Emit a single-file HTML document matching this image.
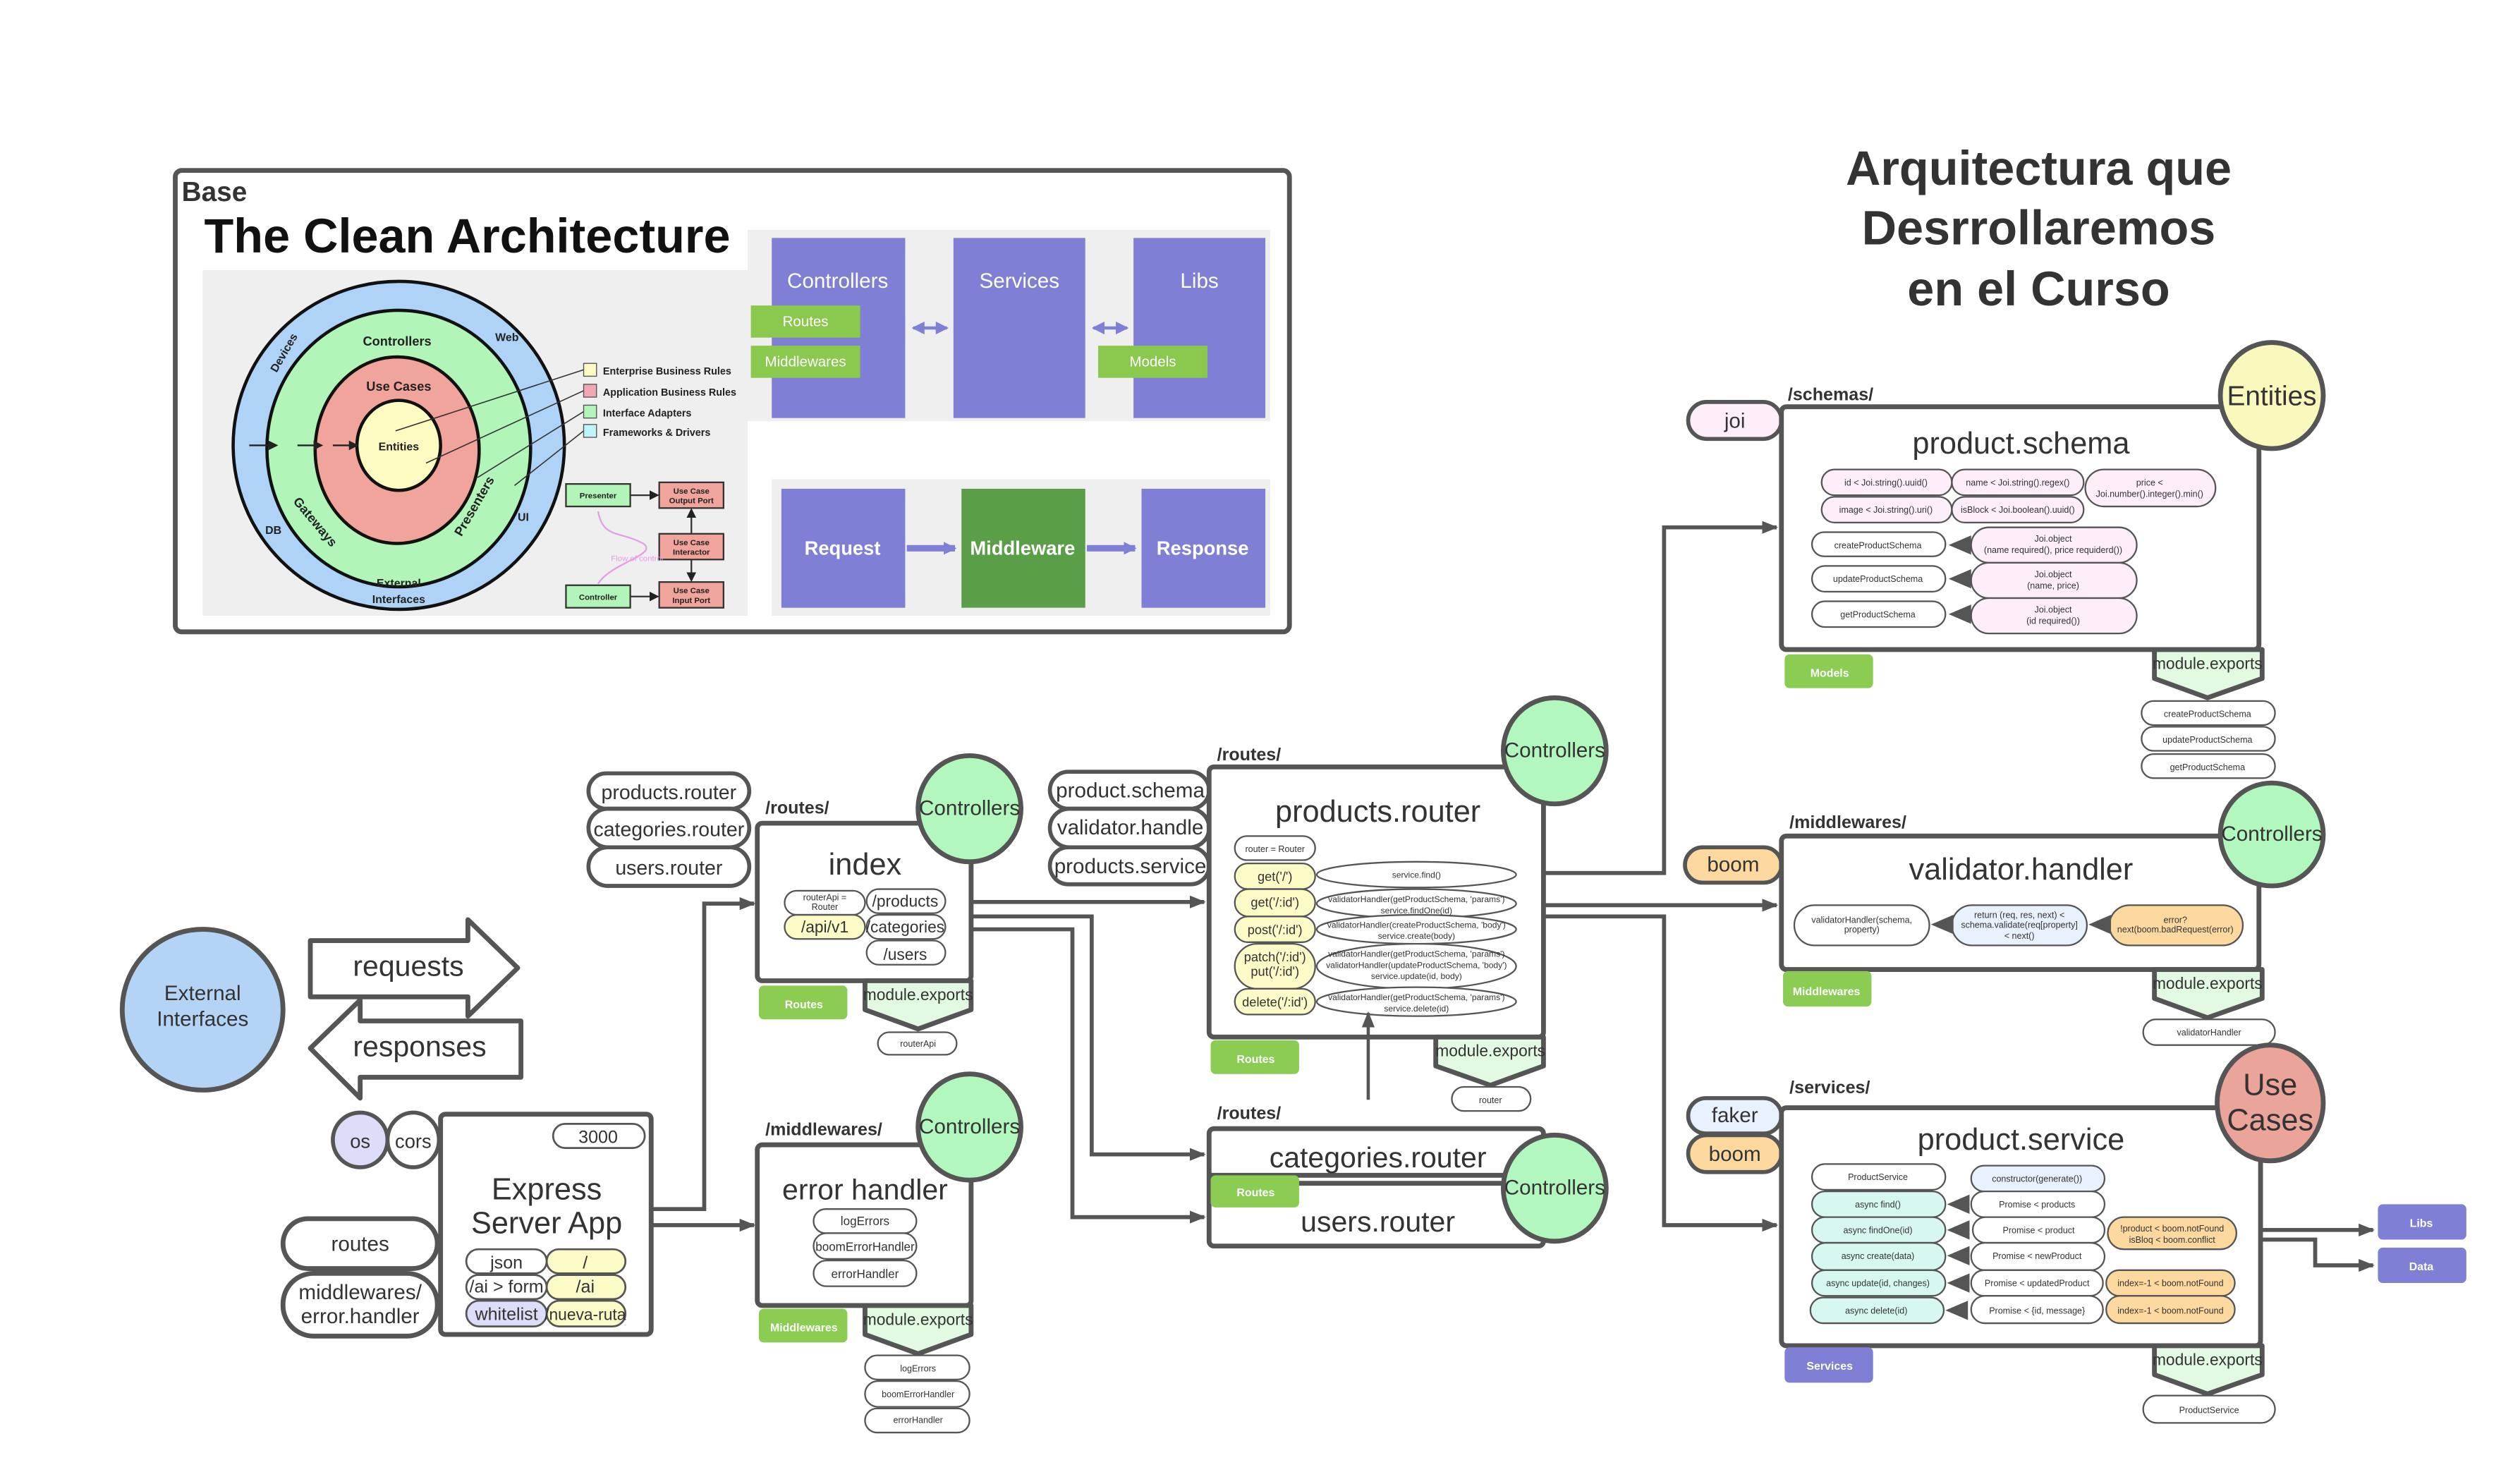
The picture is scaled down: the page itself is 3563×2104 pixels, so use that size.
<!DOCTYPE html>
<html><head><meta charset="utf-8"><style>
html,body{margin:0;padding:0;background:#fff}
svg{display:block}
text{font-family:"Liberation Sans",Arial,sans-serif;fill:#333}
</style></head><body>
<svg width="3563" height="2104" viewBox="0 0 1563 923" xmlns="http://www.w3.org/2000/svg">
<defs>
<marker id="ar" markerWidth="10" markerHeight="10" refX="9" refY="5" orient="auto" markerUnits="userSpaceOnUse"><path d="M0,1 L10,5 L0,9 Z" fill="#555"/></marker>
<marker id="ab" markerWidth="8" markerHeight="8" refX="7" refY="4" orient="auto" markerUnits="userSpaceOnUse"><path d="M0,0 L8,4 L0,8 Z" fill="#7f7fd5"/></marker>
<marker id="ab2" markerWidth="8" markerHeight="8" refX="1" refY="4" orient="auto" markerUnits="userSpaceOnUse"><path d="M8,0 L0,4 L8,8 Z" fill="#7f7fd5"/></marker>
<marker id="ak" markerWidth="6" markerHeight="6" refX="5" refY="3" orient="auto" markerUnits="userSpaceOnUse"><path d="M0,0 L6,3 L0,6 Z" fill="#222"/></marker>
</defs>
<rect width="1563" height="923" fill="#fff"/>

<!-- Title -->
<g font-weight="bold" font-size="30" text-anchor="middle">
<text x="1268" y="115">Arquitectura que</text>
<text x="1268" y="152">Desrrollaremos</text>
<text x="1268" y="190">en el Curso</text>
</g>

<!-- Base box -->
<rect x="109" y="106" width="693" height="287" rx="4" fill="#fff" stroke="#555" stroke-width="3"/>
<text x="113" y="125" font-size="17" font-weight="bold">Base</text>
<text x="127" y="157" font-size="30" font-weight="bold" style="fill:#111">The Clean Architecture</text>
<rect x="126" y="168" width="339" height="215" fill="#efefef"/>
<ellipse cx="248" cy="277" rx="103" ry="102" fill="#aed3f6" stroke="#111" stroke-width="2"/>
<ellipse cx="248" cy="279" rx="82" ry="86" fill="#b2f5b8" stroke="#111" stroke-width="2"/>
<ellipse cx="247" cy="280" rx="51" ry="58" fill="#f0a49b" stroke="#111" stroke-width="2"/>
<ellipse cx="248" cy="277" rx="26" ry="28" fill="#fbfbc2" stroke="#111" stroke-width="2"/>
<g font-size="8" font-weight="bold">
<text x="247" y="215" text-anchor="middle" style="fill:#222">Controllers</text>
<text x="248" y="243" text-anchor="middle" style="fill:#222">Use Cases</text>
<text x="248" y="280" text-anchor="middle" font-size="7" style="fill:#222">Entities</text>
<text x="308" y="212" font-size="7" style="fill:#222">Web</text>
<text x="165" y="332" font-size="7" style="fill:#222">DB</text>
<text x="322" y="324" font-size="7" style="fill:#222">UI</text>
<text x="248" y="365" text-anchor="middle" font-size="7" style="fill:#222">External</text>
<text x="248" y="375" text-anchor="middle" font-size="7" style="fill:#222">Interfaces</text>
<text transform="translate(172,232) rotate(-60)" font-size="7" style="fill:#222">Devices</text>
<text transform="translate(182,312) rotate(50)" font-size="8" style="fill:#222">Gateways</text>
<text transform="translate(287,334) rotate(-60)" font-size="8" style="fill:#222">Presenters</text>
</g>
<g stroke="#222" stroke-width="1"><line x1="155" y1="277" x2="172" y2="277" marker-end="url(#ak)"/><line x1="185" y1="277" x2="200" y2="277" marker-end="url(#ak)"/><line x1="207" y1="277" x2="222" y2="277" marker-end="url(#ak)"/></g>
<g stroke="#333" stroke-width="0.7"><line x1="246" y1="268" x2="363" y2="230"/><line x1="265" y1="288" x2="363" y2="243"/><line x1="297" y1="297" x2="363" y2="256"/><line x1="320" y1="302" x2="363" y2="268"/></g>
<rect x="363" y="226" width="8" height="8" fill="#fbfbc2" stroke="#555" stroke-width="0.6"/>
<rect x="363" y="239" width="8" height="8" fill="#f2a8b4" stroke="#555" stroke-width="0.6"/>
<rect x="363" y="252" width="8" height="8" fill="#b2f5b8" stroke="#555" stroke-width="0.6"/>
<rect x="363" y="264" width="8" height="8" fill="#bff5f8" stroke="#555" stroke-width="0.6"/>
<g font-size="6.3" font-weight="bold"><text x="375" y="233" style="fill:#222">Enterprise Business Rules</text><text x="375" y="246" style="fill:#222">Application Business Rules</text><text x="375" y="259" style="fill:#222">Interface Adapters</text><text x="375" y="271" style="fill:#222">Frameworks &amp; Drivers</text></g>
<g stroke="#333" stroke-width="1">
<rect x="352" y="301" width="40" height="14" fill="#b2f5b8"/><rect x="410" y="300" width="40" height="16" fill="#f0a49b"/>
<rect x="410" y="332" width="40" height="16" fill="#f0a49b"/><rect x="352" y="364" width="40" height="14" fill="#b2f5b8"/>
<rect x="410" y="362" width="40" height="16" fill="#f0a49b"/>
<line x1="392" y1="308" x2="409" y2="308" marker-end="url(#ak)"/><line x1="430" y1="332" x2="430" y2="317" marker-end="url(#ak)"/><line x1="430" y1="348" x2="430" y2="361" marker-end="url(#ak)"/><line x1="392" y1="371" x2="409" y2="371" marker-end="url(#ak)"/>
</g>
<path d="M372,363 C380,350 410,345 400,338 C385,330 375,335 372,318" stroke="#e59ee6" fill="none" stroke-width="1"/>
<g font-size="5" font-weight="bold" text-anchor="middle">
<text x="372" y="310" style="fill:#222">Presenter</text><text x="430" y="307" style="fill:#222">Use Case</text><text x="430" y="313" style="fill:#222">Output Port</text>
<text x="430" y="339" style="fill:#222">Use Case</text><text x="430" y="345" style="fill:#222">Interactor</text>
<text x="372" y="373" style="fill:#222">Controller</text><text x="430" y="369" style="fill:#222">Use Case</text><text x="430" y="375" style="fill:#222">Input Port</text>
</g>
<text x="380" y="349" font-size="5" style="fill:#e59ee6">Flow of control</text>

<rect x="465" y="143" width="325" height="119" fill="#efefef"/>
<rect x="480" y="148" width="83" height="112" fill="#7f7fd5"/><rect x="593" y="148" width="82" height="112" fill="#7f7fd5"/><rect x="705" y="148" width="82" height="112" fill="#7f7fd5"/>
<g font-size="13" text-anchor="middle"><text x="521" y="179" style="fill:#fff">Controllers</text><text x="634" y="179" style="fill:#fff">Services</text><text x="746" y="179" style="fill:#fff">Libs</text></g>
<rect x="467" y="190" width="68" height="20" fill="#8bc94e"/><rect x="467" y="215" width="68" height="20" fill="#8bc94e"/><rect x="683" y="215" width="68" height="20" fill="#8bc94e"/>
<g font-size="9" text-anchor="middle"><text x="501" y="203" style="fill:#fff">Routes</text><text x="501" y="228" style="fill:#fff">Middlewares</text><text x="717" y="228" style="fill:#fff">Models</text></g>
<g stroke="#7f7fd5" stroke-width="2"><line x1="568" y1="204" x2="589" y2="204" marker-end="url(#ab)" marker-start="url(#ab2)"/><line x1="680" y1="204" x2="701" y2="204" marker-end="url(#ab)" marker-start="url(#ab2)"/></g>
<rect x="480" y="298" width="310" height="85" fill="#efefef"/>
<rect x="486" y="304" width="77" height="74" fill="#7f7fd5"/><rect x="598" y="304" width="77" height="74" fill="#5a9e48"/><rect x="710" y="304" width="77" height="74" fill="#7f7fd5"/>
<g font-size="12" font-weight="bold" text-anchor="middle"><text x="524" y="345" style="fill:#fff">Request</text><text x="636" y="345" style="fill:#fff">Middleware</text><text x="748" y="345" style="fill:#fff">Response</text></g>
<g stroke="#7f7fd5" stroke-width="4"><line x1="564" y1="341" x2="594" y2="341" marker-end="url(#ab)"/><line x1="676" y1="341" x2="706" y2="341" marker-end="url(#ab)"/></g>

<!-- External interfaces -->
<ellipse cx="126" cy="628" rx="50" ry="50" fill="#b3d4f5" stroke="#555" stroke-width="3"/>
<text x="126" y="622" font-size="13" text-anchor="middle">External</text>
<text x="126" y="638" font-size="13" text-anchor="middle">Interfaces</text>
<path d="M193,585 L291,585 L291,572 L322,602 L291,632 L291,620 L193,620 Z" fill="#fff" stroke="#555" stroke-width="3" stroke-linejoin="round"/>
<text x="254" y="607" font-size="18" text-anchor="middle">requests</text>
<path d="M324,635 L224,635 L224,622 L193,652 L224,683 L224,670 L324,670 Z" fill="#fff" stroke="#555" stroke-width="3" stroke-linejoin="round"/>
<text x="261" y="657" font-size="18" text-anchor="middle">responses</text>

<!-- connectors -->
<g stroke="#555" stroke-width="2.5" fill="none">
<path d="M405,752 L438,752 L438,562 L469,562" marker-end="url(#ar)"/>
<path d="M405,762 L469,762" marker-end="url(#ar)"/>
<path d="M604,561 L749,561" marker-end="url(#ar)"/>
<path d="M604,570 L679,570 L679,718 L749,718" marker-end="url(#ar)"/>
<path d="M604,578 L667,578 L667,757 L749,757" marker-end="url(#ar)"/>
<path d="M960,543 L1035,543 L1035,328 L1105,328" marker-end="url(#ar)"/>
<path d="M960,563 L1105,563" marker-end="url(#ar)"/>
<path d="M960,570 L1035,570 L1035,762 L1105,762" marker-end="url(#ar)"/>
<path d="M1407,765 L1476,765" marker-end="url(#ar)"/>
<path d="M1407,771 L1440,771 L1440,787 L1476,787" marker-end="url(#ar)"/>
</g>

<!-- Express -->
<ellipse cx="224" cy="709" rx="17" ry="17" fill="#ddddf9" stroke="#555" stroke-width="2.5"/>
<ellipse cx="257" cy="709" rx="16" ry="17" fill="#fff" stroke="#555" stroke-width="2.5"/>
<text x="224" y="714" font-size="12" text-anchor="middle">os</text><text x="257" y="714" font-size="12" text-anchor="middle">cors</text>
<rect x="274" y="693" width="131" height="137" rx="3" fill="#fff" stroke="#555" stroke-width="3"/>
<rect x="344" y="699" width="57" height="15" rx="7.5" fill="#fff" stroke="#555" stroke-width="1.2"/>
<text x="372" y="711" font-size="11" text-anchor="middle">3000</text>
<text x="340" y="746" font-size="19" text-anchor="middle">Express</text>
<text x="340" y="767" font-size="19" text-anchor="middle">Server App</text>
<g stroke="#555" stroke-width="1.2">
<rect x="290" y="777" width="50" height="15" rx="7.5" fill="#fff"/><rect x="340" y="777" width="49" height="15" rx="7.5" fill="#fbfbc8"/>
<rect x="290" y="793" width="50" height="15" rx="7.5" fill="#fff"/><rect x="340" y="793" width="49" height="15" rx="7.5" fill="#fbfbc8"/>
<rect x="290" y="809" width="50" height="16" rx="8" fill="#ddddf9"/><rect x="340" y="809" width="49" height="16" rx="8" fill="#fbfbc8"/>
</g>
<g font-size="11" text-anchor="middle"><text x="315" y="789">json</text><text x="364" y="789">/</text><text x="315" y="804">/ai &gt; form</text><text x="364" y="804">/ai</text><text x="315" y="821">whitelist</text><text x="364" y="821" font-size="10">/nueva-ruta</text></g>
<rect x="176" y="758" width="96" height="31" rx="15.5" fill="#fff" stroke="#555" stroke-width="3"/>
<text x="224" y="778" font-size="13" text-anchor="middle">routes</text>
<rect x="176" y="792" width="96" height="39" rx="19" fill="#fff" stroke="#555" stroke-width="3"/>
<text x="224" y="808" font-size="13" text-anchor="middle">middlewares/</text><text x="224" y="823" font-size="13" text-anchor="middle">error.handler</text>

<!-- index -->
<g stroke="#555" stroke-width="2.5" fill="#fff">
<rect x="366" y="481" width="100" height="22" rx="11"/><rect x="366" y="503" width="100" height="24" rx="12"/><rect x="366" y="527" width="100" height="24" rx="12"/>
</g>
<g font-size="12.5" text-anchor="middle"><text x="416" y="497">products.router</text><text x="416" y="520">categories.router</text><text x="416" y="544">users.router</text></g>
<text x="476" y="506" font-size="11" font-weight="bold">/routes/</text>
<rect x="471" y="512" width="133" height="98" rx="3" fill="#fff" stroke="#555" stroke-width="3"/>
<ellipse cx="603" cy="503" rx="32" ry="33" fill="#b2f7bd" stroke="#555" stroke-width="3"/>
<text x="603" y="507" font-size="13" text-anchor="middle">Controllers</text>
<text x="538" y="544" font-size="19" text-anchor="middle">index</text>
<g stroke="#555" stroke-width="1">
<rect x="488" y="554" width="50" height="15" rx="7.5" fill="#fff"/><rect x="488" y="569" width="50" height="15" rx="7.5" fill="#fbfbc8"/>
<rect x="539" y="553" width="49" height="15" rx="7.5" fill="#fff"/><rect x="539" y="569" width="49" height="15" rx="7.5" fill="#fff"/><rect x="539" y="585" width="49" height="15" rx="7.5" fill="#fff"/>
</g>
<g text-anchor="middle" font-size="10"><text x="513" y="560" font-size="5.5">routerApi =</text><text x="513" y="566" font-size="5.5">Router</text><text x="513" y="580">/api/v1</text><text x="563" y="564">/products</text><text x="563" y="580">/categories</text><text x="563" y="597">/users</text></g>
<rect x="472" y="613" width="55" height="21" rx="3" fill="#8bcd53"/>
<text x="500" y="627" font-size="7" font-weight="bold" text-anchor="middle" style="fill:#fff">Routes</text>
<path d="M538,610 L604,610 L604,628 L571,640 L538,628 Z" fill="#e2f9e2" stroke="#555" stroke-width="3" stroke-linejoin="round"/>
<text x="571" y="622" font-size="10" text-anchor="middle">module.exports</text>
<rect x="546" y="642" width="49" height="14" rx="7" fill="#fff" stroke="#555" stroke-width="1"/>
<text x="571" y="651" font-size="5.5" text-anchor="middle">routerApi</text>

<!-- error handler -->
<text x="476" y="706" font-size="11" font-weight="bold">/middlewares/</text>
<rect x="471" y="712" width="133" height="100" rx="3" fill="#fff" stroke="#555" stroke-width="3"/>
<ellipse cx="603" cy="701" rx="32" ry="33" fill="#b2f7bd" stroke="#555" stroke-width="3"/>
<text x="603" y="705" font-size="13" text-anchor="middle">Controllers</text>
<text x="538" y="746" font-size="18" text-anchor="middle">error handler</text>
<g stroke="#555" stroke-width="1" fill="#fff"><rect x="506" y="752" width="64" height="15" rx="7.5"/><rect x="506" y="767" width="64" height="16" rx="8"/><rect x="506" y="784" width="64" height="16" rx="8"/></g>
<g font-size="7.5" text-anchor="middle"><text x="538" y="762">logErrors</text><text x="538" y="778">boomErrorHandler</text><text x="538" y="795">errorHandler</text></g>
<rect x="472" y="814" width="55" height="21" rx="3" fill="#8bcd53"/>
<text x="500" y="828" font-size="7" font-weight="bold" text-anchor="middle" style="fill:#fff">Middlewares</text>
<path d="M538,812 L604,812 L604,830 L571,842 L538,830 Z" fill="#e2f9e2" stroke="#555" stroke-width="3" stroke-linejoin="round"/>
<text x="571" y="824" font-size="10" text-anchor="middle">module.exports</text>
<g stroke="#555" stroke-width="1" fill="#fff"><rect x="538" y="843" width="65" height="15" rx="7.5"/><rect x="538" y="859" width="65" height="16" rx="8"/><rect x="538" y="876" width="65" height="15" rx="7.5"/></g>
<g font-size="5.5" text-anchor="middle"><text x="571" y="853">logErrors</text><text x="571" y="869">boomErrorHandler</text><text x="571" y="885">errorHandler</text></g>

<!-- products.router -->
<g stroke="#555" stroke-width="2.5" fill="#fff">
<rect x="653" y="480" width="99" height="23" rx="11.5"/><rect x="653" y="503" width="99" height="24" rx="12"/><rect x="653" y="527" width="99" height="23" rx="11.5"/>
</g>
<g font-size="13" text-anchor="middle"><text x="703" y="496">product.schema</text><text x="703" y="519">validator.handle</text><text x="703" y="543">products.service</text></g>
<text x="757" y="473" font-size="11" font-weight="bold">/routes/</text>
<rect x="752" y="477" width="208" height="168" rx="3" fill="#fff" stroke="#555" stroke-width="3"/>
<ellipse cx="967" cy="467" rx="32" ry="33" fill="#b2f7bd" stroke="#555" stroke-width="3"/>
<text x="967" y="471" font-size="13" text-anchor="middle">Controllers</text>
<text x="857" y="511" font-size="19" text-anchor="middle">products.router</text>
<g stroke="#555" stroke-width="1">
<rect x="768" y="520" width="50" height="15" rx="7.5" fill="#fff"/>
<rect x="768" y="537" width="50" height="16" rx="8" fill="#fbfbc8"/>
<rect x="768" y="553" width="50" height="17" rx="8.5" fill="#fbfbc8"/>
<rect x="768" y="570" width="50" height="16" rx="8" fill="#fbfbc8"/>
<rect x="768" y="587" width="50" height="28" rx="14" fill="#fbfbc8"/>
<rect x="768" y="615" width="50" height="16" rx="8" fill="#fbfbc8"/>
<ellipse cx="881" cy="544" rx="62" ry="8" fill="#fff"/>
<ellipse cx="881" cy="562" rx="62" ry="9" fill="#fff"/>
<ellipse cx="881" cy="578" rx="62" ry="9" fill="#fff"/>
<ellipse cx="881" cy="601" rx="62" ry="14" fill="#fff"/>
<ellipse cx="881" cy="623" rx="62" ry="9" fill="#fff"/>
</g>
<g font-size="8" text-anchor="middle"><text x="793" y="530" font-size="5.5">router = Router</text><text x="793" y="548">get('/')</text><text x="793" y="564">get('/:id')</text><text x="793" y="581">post('/:id')</text><text x="793" y="598">patch('/:id')</text><text x="793" y="607">put('/:id')</text><text x="793" y="626">delete('/:id')</text></g>
<g font-size="5.3" text-anchor="middle"><text x="881" y="546">service.find()</text>
<text x="881" y="561">validatorHandler(getProductSchema, 'params')</text><text x="881" y="568">service.findOne(id)</text>
<text x="881" y="577">validatorHandler(createProductSchema, 'body')</text><text x="881" y="584">service.create(body)</text>
<text x="881" y="595">validatorHandler(getProductSchema, 'params')</text><text x="881" y="602">validatorHandler(updateProductSchema, 'body')</text><text x="881" y="609">service.update(id, body)</text>
<text x="881" y="622">validatorHandler(getProductSchema, 'params')</text><text x="881" y="629">service.delete(id)</text></g>
<path d="M851,684 L851,630" stroke="#555" stroke-width="2" fill="none" marker-end="url(#ar)"/>
<rect x="753" y="647" width="55" height="21" rx="3" fill="#8bcd53"/>
<text x="781" y="661" font-size="7" font-weight="bold" text-anchor="middle" style="fill:#fff">Routes</text>
<path d="M893,645 L960,645 L960,663 L927,675 L893,663 Z" fill="#e2f9e2" stroke="#555" stroke-width="3" stroke-linejoin="round"/>
<text x="927" y="657" font-size="10" text-anchor="middle">module.exports</text>
<rect x="903" y="676" width="49" height="15" rx="7.5" fill="#fff" stroke="#555" stroke-width="1"/>
<text x="927" y="686" font-size="5.5" text-anchor="middle">router</text>

<!-- categories / users -->
<text x="757" y="696" font-size="11" font-weight="bold">/routes/</text>
<rect x="752" y="702" width="208" height="73" rx="3" fill="#fff" stroke="#555" stroke-width="3"/>
<line x1="752" y1="731" x2="960" y2="731" stroke="#555" stroke-width="3"/><line x1="752" y1="736" x2="960" y2="736" stroke="#555" stroke-width="3"/>
<text x="857" y="726" font-size="18" text-anchor="middle">categories.router</text>
<text x="857" y="766" font-size="18" text-anchor="middle">users.router</text>
<rect x="753" y="731" width="55" height="20" rx="3" fill="#8bcd53"/>
<text x="781" y="744" font-size="7" font-weight="bold" text-anchor="middle" style="fill:#fff">Routes</text>
<ellipse cx="967" cy="739" rx="32" ry="33" fill="#b2f7bd" stroke="#555" stroke-width="3"/>
<text x="967" y="743" font-size="13" text-anchor="middle">Controllers</text>

<!-- product.schema -->
<rect x="1050" y="250" width="58" height="23" rx="11.5" fill="#fdeefa" stroke="#555" stroke-width="2.5"/>
<text x="1079" y="266" font-size="13" text-anchor="middle">joi</text>
<text x="1112" y="249" font-size="11" font-weight="bold">/schemas/</text>
<rect x="1108" y="253" width="297" height="151" rx="3" fill="#fff" stroke="#555" stroke-width="3"/>
<ellipse cx="1413" cy="246" rx="32" ry="33" fill="#f9f9bd" stroke="#555" stroke-width="3"/>
<text x="1413" y="252" font-size="17" text-anchor="middle">Entities</text>
<text x="1257" y="282" font-size="19" text-anchor="middle">product.schema</text>
<g stroke="#555" stroke-width="1" fill="#fdeefa">
<rect x="1133" y="292" width="81" height="16" rx="8"/><rect x="1214" y="292" width="82" height="16" rx="8"/><rect x="1297" y="292" width="81" height="23" rx="11.5"/>
<rect x="1133" y="309" width="81" height="16" rx="8"/><rect x="1214" y="309" width="82" height="16" rx="8"/>
<rect x="1127" y="331" width="83" height="15" rx="7.5" fill="#fff"/><rect x="1127" y="352" width="83" height="16" rx="8" fill="#fff"/><rect x="1127" y="374" width="83" height="16" rx="8" fill="#fff"/>
<rect x="1226" y="328" width="103" height="22" rx="11"/><rect x="1226" y="350" width="103" height="22" rx="11"/><rect x="1226" y="372" width="103" height="22" rx="11"/>
</g>
<g fill="#555"><path d="M1212,339 L1226,333 L1226,345 Z"/><path d="M1212,360 L1226,354 L1226,366 Z"/><path d="M1212,382 L1226,376 L1226,388 Z"/></g>
<g font-size="5.5" text-anchor="middle"><text x="1173" y="302">id &lt; Joi.string().uuid()</text><text x="1255" y="302">name &lt; Joi.string().regex()</text><text x="1337" y="302">price &lt;</text><text x="1337" y="309">Joi.number().integer().min()</text>
<text x="1173" y="319">image &lt; Joi.string().uri()</text><text x="1255" y="319">isBlock &lt; Joi.boolean().uuid()</text>
<text x="1168" y="341">createProductSchema</text><text x="1168" y="362">updateProductSchema</text><text x="1168" y="384">getProductSchema</text>
<text x="1277" y="337">Joi.object</text><text x="1277" y="344">(name required(), price requiderd())</text>
<text x="1277" y="359">Joi.object</text><text x="1277" y="366">(name, price)</text>
<text x="1277" y="381">Joi.object</text><text x="1277" y="388">(id required())</text></g>
<rect x="1110" y="407" width="55" height="21" rx="3" fill="#8bcd53"/>
<text x="1138" y="421" font-size="7" font-weight="bold" text-anchor="middle" style="fill:#fff">Models</text>
<path d="M1340,404 L1407,404 L1407,422 L1373,434 L1340,422 Z" fill="#e2f9e2" stroke="#555" stroke-width="3" stroke-linejoin="round"/>
<text x="1373" y="416" font-size="10" text-anchor="middle">module.exports</text>
<g stroke="#555" stroke-width="1" fill="#fff"><rect x="1332" y="436" width="83" height="15" rx="7.5"/><rect x="1332" y="452" width="83" height="15" rx="7.5"/><rect x="1332" y="469" width="83" height="15" rx="7.5"/></g>
<g font-size="5.5" text-anchor="middle"><text x="1373" y="446">createProductSchema</text><text x="1373" y="462">updateProductSchema</text><text x="1373" y="479">getProductSchema</text></g>

<!-- validator.handler -->
<rect x="1048" y="527" width="60" height="22" rx="11" fill="#fdd9a0" stroke="#555" stroke-width="2.5"/>
<text x="1078" y="542" font-size="13" text-anchor="middle">boom</text>
<text x="1113" y="515" font-size="11" font-weight="bold">/middlewares/</text>
<rect x="1108" y="520" width="297" height="83" rx="3" fill="#fff" stroke="#555" stroke-width="3"/>
<ellipse cx="1413" cy="519" rx="32" ry="32" fill="#b2f7bd" stroke="#555" stroke-width="3"/>
<text x="1413" y="523" font-size="13" text-anchor="middle">Controllers</text>
<text x="1257" y="547" font-size="19" text-anchor="middle">validator.handler</text>
<g stroke="#555" stroke-width="1"><rect x="1116" y="563" width="84" height="25" rx="12.5" fill="#fff"/><rect x="1214" y="563" width="84" height="25" rx="12.5" fill="#e8f2ff"/><rect x="1312" y="563" width="83" height="25" rx="12.5" fill="#fdd9a0"/></g>
<g fill="#555"><path d="M1201,575 L1215,569 L1215,581 Z"/><path d="M1299,575 L1313,569 L1313,581 Z"/></g>
<g font-size="5.5" text-anchor="middle"><text x="1158" y="574">validatorHandler(schema,</text><text x="1158" y="580">property)</text>
<text x="1256" y="571">return (req, res, next) &lt;</text><text x="1256" y="577">schema.validate(req[property]</text><text x="1256" y="584">&lt; next()</text>
<text x="1353" y="574">error?</text><text x="1353" y="580">next(boom.badRequest(error)</text></g>
<rect x="1109" y="604" width="55" height="22" rx="3" fill="#8bcd53"/>
<text x="1136" y="619" font-size="7" font-weight="bold" text-anchor="middle" style="fill:#fff">Middlewares</text>
<path d="M1340,603 L1407,603 L1407,621 L1373,633 L1340,621 Z" fill="#e2f9e2" stroke="#555" stroke-width="3" stroke-linejoin="round"/>
<text x="1373" y="615" font-size="10" text-anchor="middle">module.exports</text>
<rect x="1333" y="634" width="82" height="16" rx="8" fill="#fff" stroke="#555" stroke-width="1"/>
<text x="1374" y="644" font-size="5.5" text-anchor="middle">validatorHandler</text>

<!-- product.service -->
<rect x="1050" y="683" width="58" height="22" rx="11" fill="#e8f2ff" stroke="#555" stroke-width="2.5"/>
<rect x="1050" y="706" width="58" height="23" rx="11.5" fill="#fdd9a0" stroke="#555" stroke-width="2.5"/>
<text x="1079" y="698" font-size="13" text-anchor="middle">faker</text><text x="1079" y="722" font-size="13" text-anchor="middle">boom</text>
<text x="1113" y="680" font-size="11" font-weight="bold">/services/</text>
<rect x="1108" y="689" width="298" height="148" rx="3" fill="#fff" stroke="#555" stroke-width="3"/>
<ellipse cx="1412" cy="686" rx="33" ry="36" fill="#eba49a" stroke="#555" stroke-width="3"/>
<text x="1412" y="681" font-size="19" text-anchor="middle">Use</text><text x="1412" y="703" font-size="19" text-anchor="middle">Cases</text>
<text x="1257" y="715" font-size="19" text-anchor="middle">product.service</text>
<g stroke="#555" stroke-width="1">
<rect x="1127" y="724" width="83" height="16" rx="8" fill="#fff"/>
<rect x="1127" y="741" width="83" height="16" rx="8" fill="#d6f8f1"/><rect x="1127" y="757" width="83" height="16" rx="8" fill="#d6f8f1"/><rect x="1127" y="773" width="83" height="17" rx="8.5" fill="#d6f8f1"/><rect x="1127" y="790" width="83" height="16" rx="8" fill="#d6f8f1"/><rect x="1126" y="807" width="83" height="16" rx="8" fill="#d6f8f1"/>
<rect x="1226" y="725" width="83" height="16" rx="8" fill="#e8f2ff"/>
<rect x="1226" y="741" width="83" height="16" rx="8" fill="#fff"/><rect x="1227" y="757" width="82" height="16" rx="8" fill="#fff"/><rect x="1226" y="773" width="83" height="17" rx="8.5" fill="#fff"/><rect x="1226" y="790" width="82" height="16" rx="8" fill="#fff"/><rect x="1226" y="806" width="82" height="17" rx="8.5" fill="#fff"/>
<rect x="1311" y="757" width="80" height="20" rx="10" fill="#fdd9a0"/><rect x="1310" y="790" width="80" height="16" rx="8" fill="#fdd9a0"/><rect x="1310" y="806" width="80" height="17" rx="8.5" fill="#fdd9a0"/>
</g>
<g fill="#555"><path d="M1211,749 L1225,743 L1225,755 Z"/><path d="M1211,765 L1225,759 L1225,771 Z"/><path d="M1211,781 L1225,775 L1225,787 Z"/><path d="M1211,798 L1225,792 L1225,804 Z"/><path d="M1210,815 L1224,809 L1224,821 Z"/></g>
<g font-size="5.5" text-anchor="middle">
<text x="1168" y="734">ProductService</text><text x="1168" y="751">async find()</text><text x="1168" y="767">async findOne(id)</text><text x="1168" y="783">async create(data)</text><text x="1168" y="800">async update(id, changes)</text><text x="1167" y="817">async delete(id)</text>
<text x="1267" y="735">constructor(generate())</text><text x="1267" y="751">Promise &lt; products</text><text x="1268" y="767">Promise &lt; product</text><text x="1267" y="783">Promise &lt; newProduct</text><text x="1267" y="800">Promise &lt; updatedProduct</text><text x="1267" y="817">Promise &lt; {id, message}</text>
<text x="1351" y="766">!product &lt; boom.notFound</text><text x="1351" y="773">isBloq &lt; boom.conflict</text><text x="1350" y="800">index=-1 &lt; boom.notFound</text><text x="1350" y="817">index=-1 &lt; boom.notFound</text>
</g>
<rect x="1110" y="838" width="55" height="22" rx="3" fill="#7f7fd5"/>
<text x="1138" y="852" font-size="7" font-weight="bold" text-anchor="middle" style="fill:#fff">Services</text>
<path d="M1340,837 L1407,837 L1407,855 L1373,867 L1340,855 Z" fill="#e2f9e2" stroke="#555" stroke-width="3" stroke-linejoin="round"/>
<text x="1373" y="849" font-size="10" text-anchor="middle">module.exports</text>
<rect x="1333" y="868" width="82" height="17" rx="8.5" fill="#fff" stroke="#555" stroke-width="1"/>
<text x="1374" y="879" font-size="5.5" text-anchor="middle">ProductService</text>
<rect x="1479" y="749" width="55" height="22" rx="3" fill="#7f7fd5"/><rect x="1479" y="776" width="55" height="22" rx="3" fill="#7f7fd5"/>
<text x="1506" y="763" font-size="7" font-weight="bold" text-anchor="middle" style="fill:#fff">Libs</text>
<text x="1506" y="790" font-size="7" font-weight="bold" text-anchor="middle" style="fill:#fff">Data</text>
</svg>
</body></html>
